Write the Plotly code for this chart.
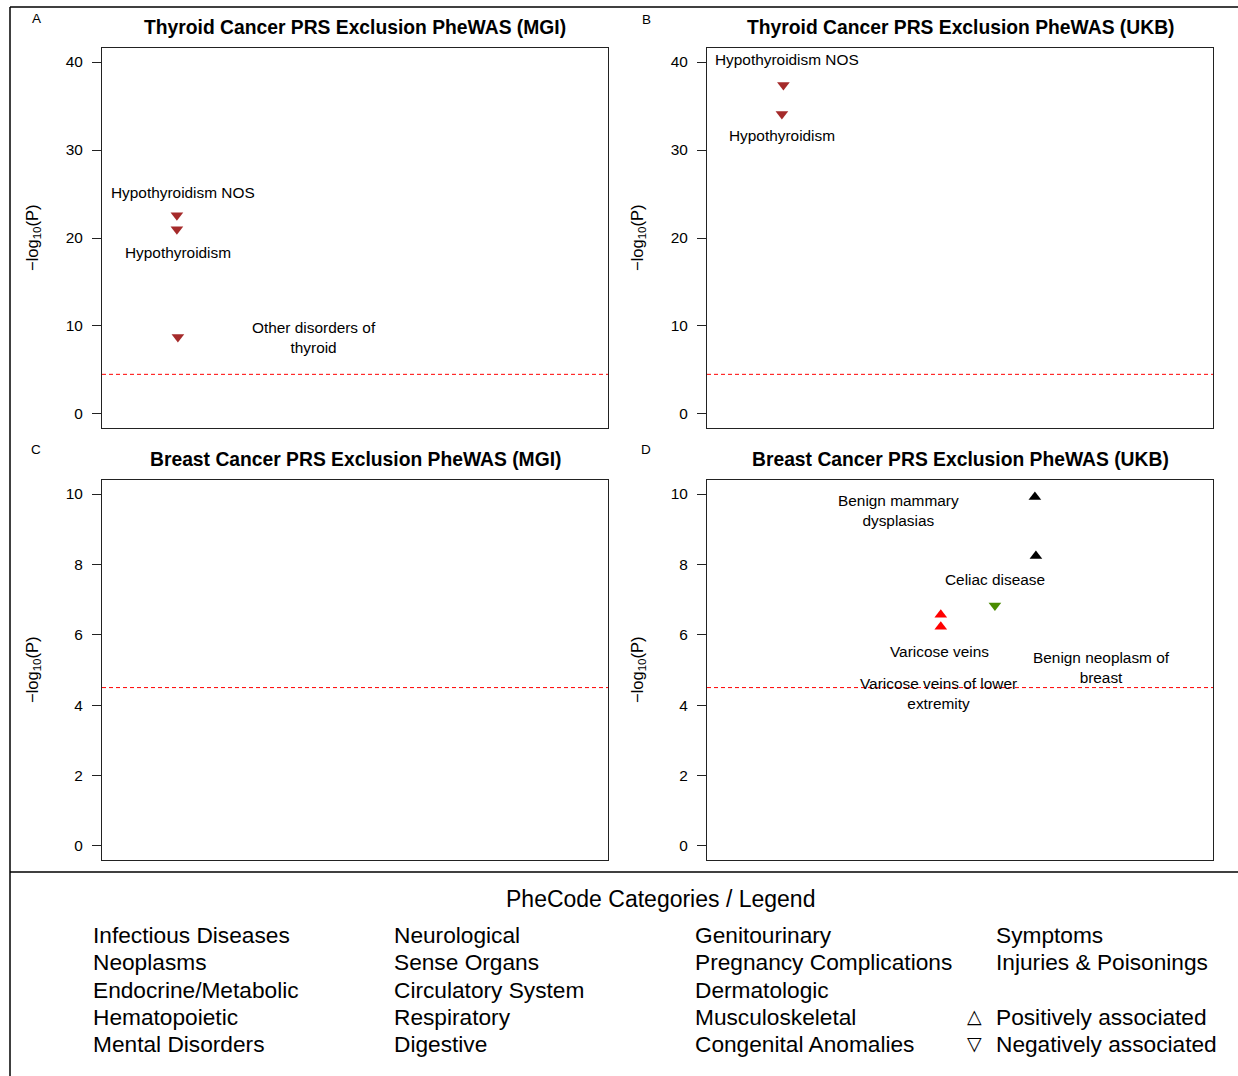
import plotly.graph_objects as go

W, H = 1238, 1076
FONT = "Liberation Sans, Arial, Helvetica, sans-serif"

# ---------------- data ----------------
# Panel A: Thyroid Cancer PRS, MGI
a_names = ["Hypothyroidism NOS", "Hypothyroidism", "Other disorders of thyroid"]
a_pos = [14.8, 14.8, 15.0]
a_logp = [22.6, 21.0, 8.75]
a_dir = ["neg", "neg", "neg"]
a_cat = ["Endocrine/Metabolic", "Endocrine/Metabolic", "Endocrine/Metabolic"]

# Panel B: Thyroid Cancer PRS, UKB
b_names = ["Hypothyroidism NOS", "Hypothyroidism"]
b_pos = [15.1, 14.8]
b_logp = [37.4, 34.1]
b_dir = ["neg", "neg"]
b_cat = ["Endocrine/Metabolic", "Endocrine/Metabolic"]

# Panel C: Breast Cancer PRS, MGI (no significant associations)
c_names = []
c_pos = []
c_logp = []
c_dir = []
c_cat = []

# Panel D: Breast Cancer PRS, UKB
d_names = ["Benign mammary dysplasias", "Benign neoplasm of breast", "Celiac disease",
           "Varicose veins", "Varicose veins of lower extremity"]
d_pos = [64.8, 65.0, 56.9, 46.2, 46.2]
d_logp = [9.92, 8.24, 6.83, 6.57, 6.23]
d_dir = ["pos", "pos", "neg", "pos", "pos"]
d_cat = ["Genitourinary", "Genitourinary", "Digestive", "Circulatory System", "Circulatory System"]

threshold = 4.5

titles = ["Thyroid Cancer PRS Exclusion PheWAS (MGI)",
          "Thyroid Cancer PRS Exclusion PheWAS (UKB)",
          "Breast Cancer PRS Exclusion PheWAS (MGI)",
          "Breast Cancer PRS Exclusion PheWAS (UKB)"]
letters = ["A", "B", "C", "D"]
yticks_thyroid = [0, 10, 20, 30, 40]
yticks_breast = [0, 2, 4, 6, 8, 10]

legend_cols = [
    ["Infectious Diseases", "Neoplasms", "Endocrine/Metabolic", "Hematopoietic", "Mental Disorders"],
    ["Neurological", "Sense Organs", "Circulatory System", "Respiratory", "Digestive"],
    ["Genitourinary", "Pregnancy Complications", "Dermatologic", "Musculoskeletal", "Congenital Anomalies"],
    ["Symptoms", "Injuries & Poisonings"],
]
dir_legend = [("△", "Positively associated"), ("▽", "Negatively associated")]

cat_colors = {
    "Endocrine/Metabolic": "#A52A2A",
    "Genitourinary": "#000000",
    "Digestive": "#4A8C00",
    "Circulatory System": "#FF0000",
}

# label placement (layout only): name -> (x, y) text centre in data units
a_lab = {"Hypothyroidism NOS": (16.0, 25.2), "Hypothyroidism": (15.0, 18.3),
         "Other disorders of thyroid": (41.9, 8.64)}
b_lab = {"Hypothyroidism NOS": (15.8, 40.3), "Hypothyroidism": (14.8, 31.6)}
d_lab = {"Benign mammary dysplasias": (37.9, 9.52), "Benign neoplasm of breast": (77.9, 5.08),
         "Celiac disease": (56.9, 7.56), "Varicose veins": (46.0, 5.52),
         "Varicose veins of lower extremity": (45.8, 4.32)}
wrap = {"Other disorders of thyroid": "Other disorders of<br>thyroid",
        "Benign mammary dysplasias": "Benign mammary<br>dysplasias",
        "Benign neoplasm of breast": "Benign neoplasm of<br>breast",
        "Varicose veins of lower extremity": "Varicose veins of lower<br>extremity"}

# ---------------- layout geometry (pixels) ----------------
px_x = [(102, 608), (707, 1213), (102, 608), (707, 1213)]
px_y = [(48, 428), (48, 428), (480, 860), (480, 860)]

def fx(p):
    return p / W

def fy(p):
    return 1 - p / H

fig = go.Figure()
annotations = []
shapes = []

panels = [
    (a_names, a_pos, a_logp, a_dir, a_cat, a_lab, yticks_thyroid),
    (b_names, b_pos, b_logp, b_dir, b_cat, b_lab, yticks_thyroid),
    (c_names, c_pos, c_logp, c_dir, c_cat, {}, yticks_breast),
    (d_names, d_pos, d_logp, d_dir, d_cat, d_lab, yticks_breast),
]

for i, (names, pos, logp, dirs, cats, labs, yt) in enumerate(panels):
    n = i + 1
    xa = "x" if n == 1 else f"x{n}"
    ya = "y" if n == 1 else f"y{n}"
    ymax = max(yt)
    pad = 0.04 * ymax
    fig.add_trace(go.Scatter(
        x=pos, y=logp, mode="markers", xaxis=xa, yaxis=ya, text=names,
        hovertemplate="%{text}<br>-log10(P)=%{y}<extra></extra>",
        marker=dict(symbol=["triangle-up" if d == "pos" else "triangle-down" for d in dirs],
                    color=[cat_colors[c] for c in cats], size=11, line=dict(width=0)),
        showlegend=False))
    fig.add_trace(go.Scatter(
        x=[0, 100], y=[threshold, threshold], mode="lines", xaxis=xa, yaxis=ya,
        line=dict(color="#FF0000", width=1, dash="4px,3px"), hoverinfo="skip",
        showlegend=False))
    for nm in names:
        lx, ly = labs[nm]
        annotations.append(dict(x=lx, y=ly, xref=xa, yref=ya, text=wrap.get(nm, nm),
                                showarrow=False, font=dict(size=15.4, color="#000", family=FONT),
                                xanchor="center", yanchor="middle"))
    x0, x1 = px_x[i]
    y0, y1 = px_y[i]
    axx = dict(domain=[fx(x0), fx(x1)], range=[0, 100], showticklabels=False,
               ticks="", showgrid=False, zeroline=False, showline=True, mirror=True,
               linecolor="#222", linewidth=1, anchor=ya, fixedrange=True)
    axy = dict(domain=[fy(y1), fy(y0)], range=[-pad, ymax + pad], tickvals=yt,
               ticks="outside", ticklen=9, tickwidth=1, tickcolor="#222",
               tickfont=dict(size=15.4, color="#000", family=FONT), showgrid=False,
               zeroline=False, showline=True, mirror=True, linecolor="#222", linewidth=1,
               anchor=xa, ticklabelstandoff=6, fixedrange=True)
    fig.layout[f"xaxis{'' if n == 1 else n}"] = axx
    fig.layout[f"yaxis{'' if n == 1 else n}"] = axy
    # title
    annotations.append(dict(x=fx((x0 + x1) / 2), y=fy(y0 - 20), xref="paper", yref="paper",
                            text=f"<b>{titles[i]}</b>", showarrow=False,
                            font=dict(size=19.3, color="#000", family=FONT),
                            xanchor="center", yanchor="middle"))
    # panel letter
    annotations.append(dict(x=fx(x0 - 66 + (5 if n in (2, 4) else 0)), y=fy(y0 - 30 + (2 if n == 2 else 0)),
                            xref="paper", yref="paper", text=letters[i], showarrow=False,
                            font=dict(size=13.5, color="#000", family=FONT),
                            xanchor="center", yanchor="middle"))
    # y axis title
    annotations.append(dict(x=fx(x0 - 69), y=fy((y0 + y1) / 2), xref="paper", yref="paper",
                            text="−log<sub>10</sub>(P)", showarrow=False, textangle=-90,
                            font=dict(size=16.5, color="#000", family=FONT),
                            xanchor="center", yanchor="middle"))

# legend section
annotations.append(dict(x=fx(660), y=fy(899), xref="paper", yref="paper",
                        text="PheCode Categories / Legend", showarrow=False,
                        font=dict(size=23, color="#000", family=FONT),
                        xanchor="center", yanchor="middle"))
col_x = [91, 392, 693, 994]
row_y = [935, 962, 990, 1017, 1044]
for cx, col in zip(col_x, legend_cols):
    for ry, txt in zip(row_y, col):
        annotations.append(dict(x=fx(cx), y=fy(ry), xref="paper", yref="paper", text=txt,
                                showarrow=False, font=dict(size=22.7, color="#000", family=FONT),
                                xanchor="left", yanchor="middle"))
for ry, (sym, txt) in zip(row_y[3:], dir_legend):
    annotations.append(dict(x=fx(974), y=fy(ry - 1), xref="paper", yref="paper", text=f"<b>{sym}</b>",
                            showarrow=False, font=dict(size=19, color="#000", family="DejaVu Sans"),
                            xanchor="center", yanchor="middle"))
    annotations.append(dict(x=fx(994), y=fy(ry), xref="paper", yref="paper", text=txt,
                            showarrow=False, font=dict(size=22.7, color="#000", family=FONT),
                            xanchor="left", yanchor="middle"))

# frame lines
frame = [(10, 7, W, 7), (10, 7, 10, H), (10, 872, W, 872)]
for (a, b, c, d) in frame:
    shapes.append(dict(type="line", xref="paper", yref="paper", x0=fx(a), y0=fy(b),
                       x1=fx(c), y1=fy(d), line=dict(color="#000", width=1.5)))

fig.update_layout(width=W, height=H, margin=dict(l=0, r=0, t=0, b=0),
                  paper_bgcolor="white", plot_bgcolor="white",
                  annotations=annotations, shapes=shapes,
                  font=dict(family=FONT, color="#000"))

fig.write_html("out.html", config={"displayModeBar": False},
               post_script="document.body.style.margin='0';document.body.style.overflow='hidden';")
